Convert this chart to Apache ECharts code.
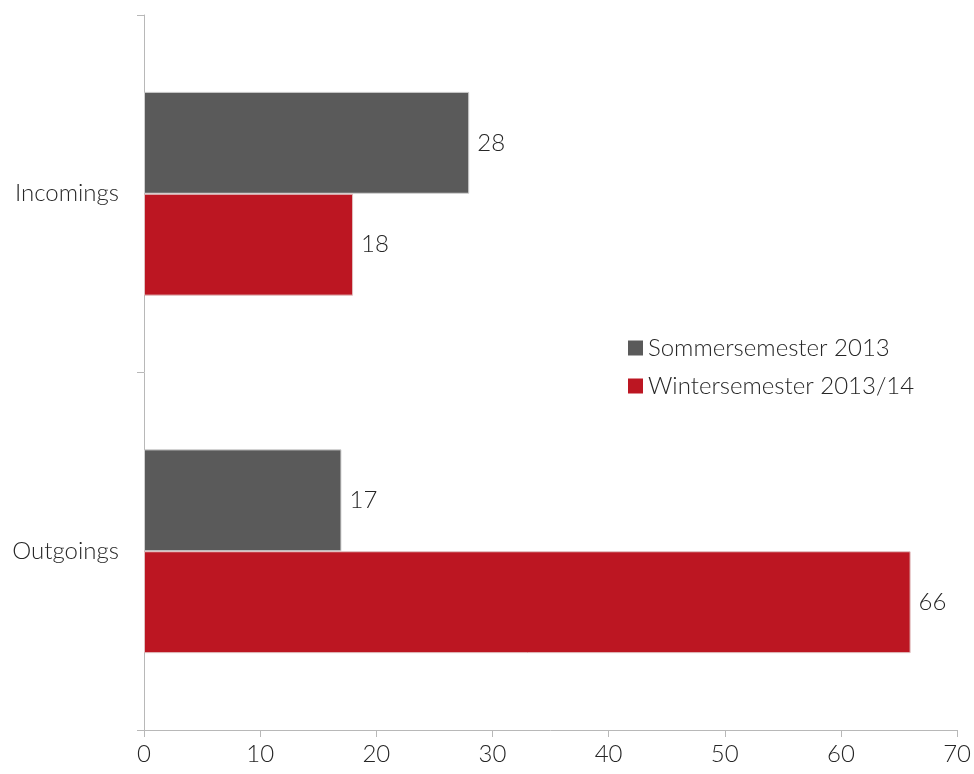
<!DOCTYPE html>
<html>
<head>
<meta charset="utf-8">
<script src="https://cdn.jsdelivr.net/npm/echarts@6/dist/echarts.min.js"></script>
<style>
  html, body { margin: 0; padding: 0; background: #fff; }
  #chart { width: 974px; height: 774px; }
</style>
</head>
<body>
<div id="chart"></div>
<script>
// Exchange students per semester
const categories = ['Incomings', 'Outgoings'];
const seriesNames = ['Sommersemester 2013', 'Wintersemester 2013/14'];
const sommerValues = [28, 17];
const winterValues = [18, 66];
const xTicks = [0, 10, 20, 30, 40, 50, 60, 70];

const FONT = 'Lato, "Open Sans", "Noto Sans", sans-serif';
const TEXT = '#262626';
const AXIS = '#b8b8b8';
const FS = 24;

const chart = echarts.init(document.getElementById('chart'), null, { renderer: 'canvas' });

const labelStyle = {
  show: true,
  position: 'right',
  distance: 8,
  color: TEXT,
  fontFamily: FONT,
  fontWeight: 300,
  fontSize: FS
};

chart.setOption({
  animation: false,
  backgroundColor: '#ffffff',
  grid: { left: 144, right: 16, top: 15, bottom: 44, containLabel: false },
  legend: {
    orient: 'vertical',
    left: 623,
    top: 331,
    itemWidth: 15,
    itemHeight: 15,
    itemGap: 14,
    icon: 'rect',
    itemStyle: { borderWidth: 0 },
    textStyle: { color: TEXT, fontFamily: FONT, fontWeight: 300, fontSize: FS },
    data: seriesNames
  },
  xAxis: {
    type: 'value',
    min: xTicks[0],
    max: xTicks[xTicks.length - 1],
    interval: 10,
    splitLine: { show: false },
    axisLine: { show: true, lineStyle: { color: AXIS, width: 1 } },
    axisTick: { show: true, length: 7, lineStyle: { color: AXIS } },
    axisLabel: { color: TEXT, fontFamily: FONT, fontWeight: 300, fontSize: FS, margin: 12 }
  },
  yAxis: {
    type: 'category',
    inverse: true,
    data: categories,
    axisLine: { show: true, lineStyle: { color: AXIS, width: 1 } },
    axisTick: { show: true, length: 7, lineStyle: { color: AXIS } },
    axisLabel: { color: TEXT, fontFamily: FONT, fontWeight: 300, fontSize: FS, margin: 25 }
  },
  series: [
    {
      name: seriesNames[0],
      type: 'bar',
      data: sommerValues,
      barGap: '0%',
      barCategoryGap: '43%',
      itemStyle: { color: '#5a5a5a', borderColor: '#d0d0d0', borderWidth: 1 },
      label: labelStyle
    },
    {
      name: seriesNames[1],
      type: 'bar',
      data: winterValues,
      barGap: '0%',
      barCategoryGap: '43%',
      itemStyle: { color: '#bc1622', borderColor: '#e0c0c0', borderWidth: 1 },
      label: labelStyle
    }
  ]
});
</script>
</body>
</html>
